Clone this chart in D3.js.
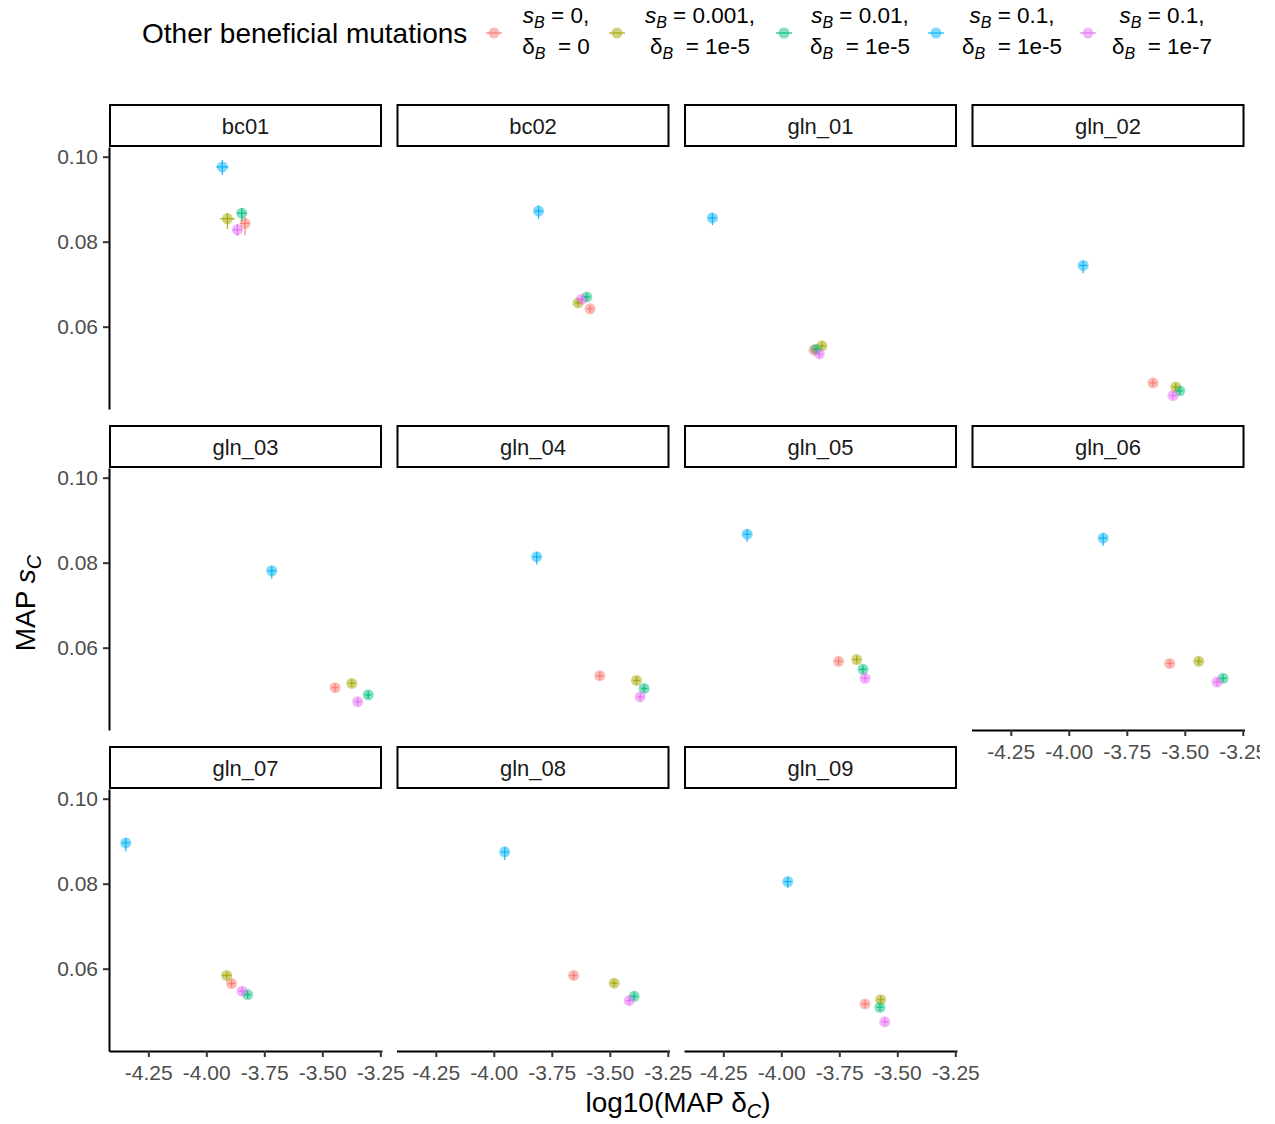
<!DOCTYPE html>
<html>
<head>
<meta charset="utf-8">
<script src="https://cdn.jsdelivr.net/npm/d3@7"></script>
<style>
  body { margin: 0; background: #fff; }
  svg text { font-family: "Liberation Sans", Arial, sans-serif; white-space: pre; }
</style>
</head>
<body>
<svg id="chart"></svg>
<script>
// facet panels, in facet_wrap order
var panels = ["bc01", "bc02", "gln_01", "gln_02", "gln_03", "gln_04",
  "gln_05", "gln_06", "gln_07", "gln_08", "gln_09"];

var seriesColors = ["#F8766D", "#A3A500", "#00BF7D", "#00B0F6", "#E76BF3"];
var legendTop = ["0,", "0.001,", "0.01,", "0.1,", "0.1,"];
var legendBottom = ["0", "1e-5", "1e-5", "1e-5", "1e-7"];

var xTicks = [-4.25, -4.0, -3.75, -3.5, -3.25];
var yTicks = [0.06, 0.08, 0.10];

// each row: [log10 MAP deltaC, MAP sC, x err, y err low, y err high], one per panel
var sRed = [
  [-3.833, 0.0843, 0.020, 0.0028, 0.0014],
  [-3.585, 0.0642, 0.014, 0.0009, 0.0009],
  [-3.859, 0.0545, 0.014, 0.0009, 0.0009],
  [-3.637, 0.0468, 0.014, 0.0009, 0.0009],
  [-3.445, 0.0506, 0.014, 0.0009, 0.0009],
  [-3.543, 0.0534, 0.014, 0.0009, 0.0009],
  [-3.753, 0.0568, 0.014, 0.0009, 0.0009],
  [-3.565, 0.0563, 0.014, 0.0009, 0.0009],
  [-3.891, 0.0565, 0.014, 0.0009, 0.0009],
  [-3.656, 0.0584, 0.014, 0.0009, 0.0009],
  [-3.639, 0.0517, 0.014, 0.0009, 0.0009]
];
var sOlive = [
  [-3.909, 0.0854, 0.032, 0.0024, 0.0014],
  [-3.637, 0.0656, 0.014, 0.0009, 0.0009],
  [-3.825, 0.0555, 0.014, 0.0009, 0.0009],
  [-3.539, 0.0458, 0.014, 0.0009, 0.0009],
  [-3.373, 0.0516, 0.014, 0.0009, 0.0009],
  [-3.385, 0.0523, 0.014, 0.0009, 0.0009],
  [-3.675, 0.0572, 0.014, 0.0009, 0.0009],
  [-3.440, 0.0568, 0.014, 0.0009, 0.0009],
  [-3.912, 0.0584, 0.020, 0.0009, 0.0009],
  [-3.481, 0.0566, 0.014, 0.0009, 0.0009],
  [-3.572, 0.0527, 0.014, 0.0009, 0.0009]
];
var sGreen = [
  [-3.847, 0.0867, 0.020, 0.0019, 0.0012],
  [-3.599, 0.0670, 0.014, 0.0009, 0.0009],
  [-3.850, 0.0547, 0.014, 0.0009, 0.0009],
  [-3.522, 0.0449, 0.014, 0.0009, 0.0009],
  [-3.302, 0.0489, 0.014, 0.0009, 0.0009],
  [-3.352, 0.0504, 0.014, 0.0009, 0.0009],
  [-3.648, 0.0549, 0.014, 0.0009, 0.0009],
  [-3.335, 0.0528, 0.014, 0.0009, 0.0009],
  [-3.822, 0.0539, 0.014, 0.0009, 0.0009],
  [-3.395, 0.0535, 0.014, 0.0009, 0.0009],
  [-3.575, 0.0509, 0.014, 0.0009, 0.0009]
];
var sBlue = [
  [-3.931, 0.0976, 0.026, 0.0019, 0.0016],
  [-3.807, 0.0872, 0.017, 0.0019, 0.0013],
  [-4.297, 0.0856, 0.017, 0.0017, 0.0011],
  [-3.938, 0.0744, 0.017, 0.0018, 0.0011],
  [-3.718, 0.0781, 0.017, 0.0018, 0.0011],
  [-3.815, 0.0814, 0.017, 0.0018, 0.0011],
  [-4.147, 0.0867, 0.017, 0.0018, 0.0011],
  [-3.852, 0.0858, 0.017, 0.0018, 0.0011],
  [-4.347, 0.0896, 0.017, 0.0020, 0.0011],
  [-3.953, 0.0875, 0.017, 0.0019, 0.0011],
  [-3.972, 0.0805, 0.017, 0.0015, 0.0011]
];
var sMagenta = [
  [-3.866, 0.0828, 0.020, 0.0014, 0.0014],
  [-3.622, 0.0664, 0.014, 0.0009, 0.0009],
  [-3.836, 0.0536, 0.014, 0.0009, 0.0009],
  [-3.551, 0.0438, 0.014, 0.0009, 0.0009],
  [-3.347, 0.0473, 0.014, 0.0009, 0.0009],
  [-3.369, 0.0484, 0.014, 0.0009, 0.0009],
  [-3.639, 0.0528, 0.014, 0.0009, 0.0009],
  [-3.361, 0.0519, 0.014, 0.0009, 0.0009],
  [-3.846, 0.0547, 0.014, 0.0009, 0.0009],
  [-3.416, 0.0525, 0.014, 0.0009, 0.0009],
  [-3.554, 0.0475, 0.014, 0.0009, 0.0009]
];
var allSeries = [sRed, sOlive, sGreen, sBlue, sMagenta];

// layout
var svgW = 1260, svgH = 1124;
var left0 = 109, top0 = 104, colStep = 287.5, rowStep = 321;
var panelW = 273, stripH = 42, panelH = 262;

var svg = d3.select("#chart").attr("width", svgW).attr("height", svgH);

var x = d3.scaleLinear().domain([-4.4194, -3.2427]).range([0, panelW]);
var y = d3.scaleLinear().domain([0.04063, 0.10228]).range([panelH, 0]);

// ggplot writes a plain hyphen for negatives
var fmt = function (d) { return d3.format(".2f")(d).replace("\u2212", "-"); };

panels.forEach(function (name, i) {
  var col = i % 4, row = Math.floor(i / 4);
  var g = svg.append("g")
    .attr("transform", `translate(${left0 + col * colStep},${top0 + row * rowStep})`);

  // strip
  g.append("rect")
    .attr("x", 1).attr("y", 1)
    .attr("width", panelW - 2).attr("height", stripH - 1)
    .attr("fill", "#fff").attr("stroke", "#000").attr("stroke-width", 2);
  g.append("text")
    .attr("x", panelW / 2).attr("y", stripH / 2 + 1)
    .attr("text-anchor", "middle").attr("dominant-baseline", "central")
    .attr("font-size", 22).attr("fill", "#1a1a1a")
    .text(name);

  var p = g.append("g").attr("transform", `translate(0,${stripH + 1})`);

  // points then error bars
  allSeries.forEach(function (s, k) {
    var d = s[i];
    p.append("circle")
      .attr("cx", x(d[0])).attr("cy", y(d[1])).attr("r", 5.5)
      .attr("fill", seriesColors[k]).attr("fill-opacity", 0.5);
  });
  allSeries.forEach(function (s, k) {
    var d = s[i];
    p.append("line")
      .attr("x1", x(d[0] - d[2])).attr("x2", x(d[0] + d[2]))
      .attr("y1", y(d[1])).attr("y2", y(d[1]))
      .attr("stroke", seriesColors[k]).attr("stroke-width", 1.3).attr("stroke-opacity", 0.85);
    p.append("line")
      .attr("x1", x(d[0])).attr("x2", x(d[0]))
      .attr("y1", y(d[1] - d[3])).attr("y2", y(d[1] + d[4]))
      .attr("stroke", seriesColors[k]).attr("stroke-width", 1.3).attr("stroke-opacity", 0.85);
  });

  if (col == 0) {
    var ya = p.append("g")
      .call(d3.axisLeft(y).tickValues(yTicks).tickFormat(fmt).tickSize(6).tickSizeOuter(0));
    styleAxis(ya);
    ya.selectAll(".tick text").attr("x", -11);
  }
  if (row == 2 || i == 7) {
    var xa = p.append("g").attr("transform", `translate(0,${panelH})`)
      .call(d3.axisBottom(x).tickValues(xTicks).tickFormat(fmt).tickSize(6).tickSizeOuter(0));
    styleAxis(xa);
    xa.selectAll(".tick text").attr("y", 14);
  }
});

function styleAxis(a) {
  a.select(".domain").attr("stroke", "#000").attr("stroke-width", 2);
  a.selectAll(".tick line").attr("stroke", "#333").attr("stroke-width", 2);
  a.selectAll(".tick text")
    .attr("font-size", 21).attr("fill", "#4d4d4d")
    .style("font-family", "'Liberation Sans', Arial, sans-serif");
}

// axis titles
var xt = svg.append("text")
  .attr("x", 678).attr("y", 1112).attr("text-anchor", "middle")
  .attr("font-size", 28).attr("fill", "#000");
xt.append("tspan").text("log10(MAP δ");
xt.append("tspan").attr("font-size", 20).attr("font-style", "italic").attr("dy", 6).text("C");
xt.append("tspan").attr("dy", -6).text(")");

var yt = svg.append("text")
  .attr("transform", "translate(35,603) rotate(-90)")
  .attr("text-anchor", "middle")
  .attr("font-size", 28).attr("fill", "#000");
yt.append("tspan").text("MAP ");
yt.append("tspan").attr("font-style", "italic").text("s");
yt.append("tspan").attr("font-size", 20).attr("font-style", "italic").attr("dy", 6).text("C");

// legend
svg.append("text")
  .attr("x", 142).attr("y", 43)
  .attr("font-size", 28).attr("fill", "#000")
  .text("Other beneficial mutations");

var keyX = [494, 617, 784, 936, 1088];
var labelX = [556, 700, 860, 1012, 1162];
seriesColors.forEach(function (c, k) {
  var lg = svg.append("g");
  lg.append("circle").attr("cx", keyX[k]).attr("cy", 33).attr("r", 5.5)
    .attr("fill", c).attr("fill-opacity", 0.5);
  lg.append("line")
    .attr("x1", keyX[k] - 8).attr("x2", keyX[k] + 8).attr("y1", 33).attr("y2", 33)
    .attr("stroke", c).attr("stroke-width", 1.3).attr("stroke-opacity", 0.85);

  var t1 = lg.append("text").attr("x", labelX[k]).attr("y", 23)
    .attr("text-anchor", "middle").attr("font-size", 22.5).attr("fill", "#000");
  t1.append("tspan").attr("font-style", "italic").text("s");
  t1.append("tspan").attr("font-style", "italic").attr("font-size", 16).attr("dy", 5).text("B");
  t1.append("tspan").attr("dy", -5).text(" = " + legendTop[k]);

  var t2 = lg.append("text").attr("x", labelX[k]).attr("y", 54)
    .attr("text-anchor", "middle").attr("font-size", 22.5).attr("fill", "#000");
  t2.append("tspan").text("δ");
  t2.append("tspan").attr("font-style", "italic").attr("font-size", 16).attr("dy", 5).text("B");
  t2.append("tspan").attr("dy", -5).text("  = " + legendBottom[k]);
});
</script>
</body>
</html>
